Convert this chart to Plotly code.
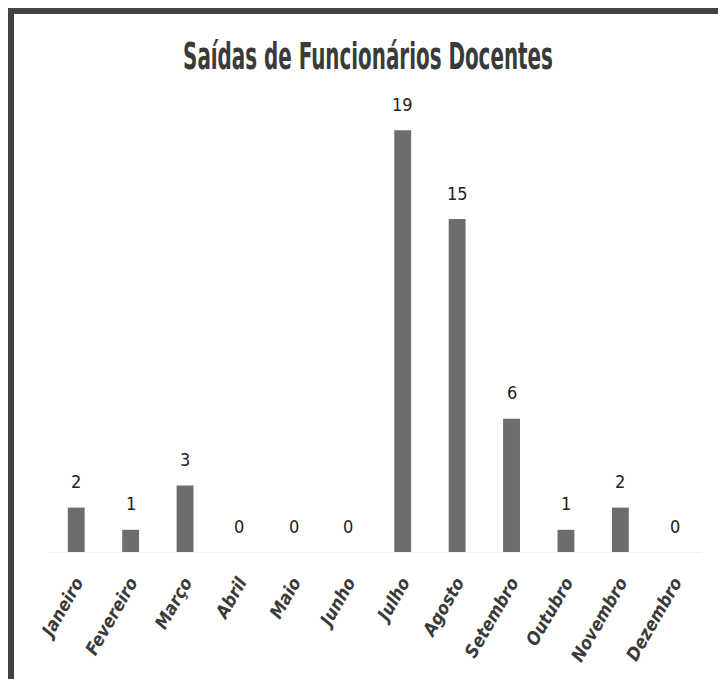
import plotly.graph_objects as go

months = ["Janeiro", "Fevereiro", "Março", "Abril", "Maio", "Junho",
          "Julho", "Agosto", "Setembro", "Outubro", "Novembro", "Dezembro"]
values = [2, 1, 3, 0, 0, 0, 19, 15, 6, 1, 2, 0]
title = "Saídas de Funcionários Docentes"

W, H = 718, 679
ml, mr, mt, mb = 49, 16, 108, 127
NARROW = "DejaVu Sans Condensed, Liberation Sans Narrow, Arial Narrow, sans-serif"

fig = go.Figure()
fig.add_trace(go.Bar(
    x=months, y=values,
    marker=dict(color="#6d6d6d", line=dict(width=0)),
    width=0.31,
))
for m, v in zip(months, values):
    fig.add_annotation(x=m, y=v, text=str(v), showarrow=False, yshift=26, yanchor="middle",
                       font=dict(family=NARROW, size=18, color="#222"))

pw = W - ml - mr
ph = H - mt - mb
def px(x):
    return (x - ml) / pw
def py(y):
    return (H - mb - y) / ph

fig.update_layout(
    width=W, height=H,
    margin=dict(l=ml, r=mr, t=mt, b=mb, pad=0),
    paper_bgcolor="white", plot_bgcolor="white",
    showlegend=False,
    title=dict(text="<b>" + title + "</b>", x=368 / W, xanchor="center", y=1 - 56 / H, yanchor="middle",
               font=dict(family=NARROW, size=38, color="#3a3a3a")),
    xaxis=dict(showgrid=False, showline=True, linecolor="#f0f0f0", linewidth=1, ticks="",
               tickangle=-60, ticklabelstandoff=12,
               tickvals=months,
               ticktext=["<b><i>" + m + "</i></b>" for m in months],
               tickfont=dict(family=NARROW, size=18, color="#3a3a3a",
                             style="italic", weight="bold")),
    yaxis=dict(range=[0, 20], visible=False),
    shapes=[
        dict(type="line", xref="paper", yref="paper", x0=px(8), x1=px(718), y0=py(11), y1=py(11),
             line=dict(color="#444", width=6)),
        dict(type="line", xref="paper", yref="paper", x0=px(11), x1=px(11), y0=py(8), y1=py(679),
             line=dict(color="#444", width=6)),
    ],
)

post = """
document.body.style.margin='0';
document.body.style.overflow='hidden';
var t = document.querySelector('.gtitle');
if (t) {
  var b = t.getBBox();
  var cx = b.x + b.width / 2;
  var s = 370 / b.width;
  t.setAttribute('transform', 'translate(' + cx + ',0) scale(' + s + ',1) translate(' + (-cx) + ',0)');
}
"""
fig.write_html("out.html", config={"displayModeBar": False}, post_script=post)
